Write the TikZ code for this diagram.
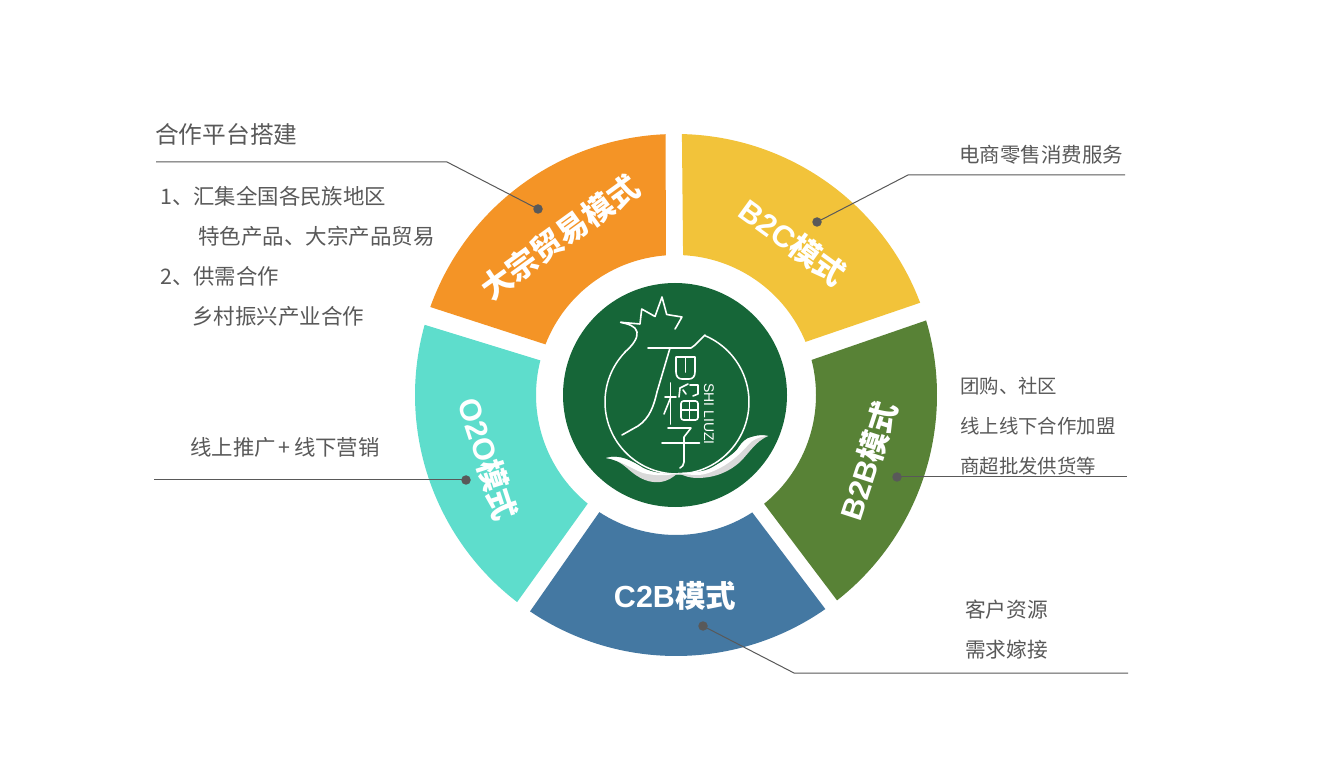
\documentclass[tikz,border=0pt]{standalone}
\usepackage{fontspec}
\setmainfont{Noto Sans CJK SC}
\newfontfamily\latinsans{Liberation Sans}
\newcommand{\szfont}[1]{\fontsize{#1}{#1}\selectfont}
\definecolor{txtgray}{HTML}{595959}
\definecolor{cOrange}{HTML}{F49426}
\definecolor{cYellow}{HTML}{F2C33A}
\definecolor{cGreen}{HTML}{588236}
\definecolor{cBlue}{HTML}{4478A2}
\definecolor{cTeal}{HTML}{5EDDCC}
\definecolor{cCore}{HTML}{166638}
\definecolor{leafgray}{HTML}{D9D9D9}
% outer start, outer end, inner end, inner start, colour
\newcommand{\sector}[5]{%
  \fill[#5] (#1:261pt) arc[start angle=#1,end angle=#2,radius=261pt]
    -- (#3:140pt) arc[start angle=#3,end angle=#4,radius=140pt] -- cycle;}
\tikzset{
  lead/.style={draw=txtgray,line width=1pt},
  dotn/.style={circle,fill=txtgray,inner sep=0pt,minimum size=9.5pt},
  lbl/.style={anchor=west,inner sep=0pt,text=txtgray},
  seg/.style={inner sep=0pt,text=white,font=\bfseries\szfont{30.5}},
  logo/.style={draw=white,line width=1.6pt,line cap=round,line join=round},
}
\begin{document}
\begin{tikzpicture}[x=1pt,y=-1pt]
\useasboundingbox (0,0) rectangle (1326,783);
\fill[white] (0,0) rectangle (1326,783);
\begin{scope}[shift={(676,395)},y=1pt]
  \sector{160.3}{92.3}{94.1}{158.8}{cOrange}
  \sector{88.7}{20.7}{22.3}{87.1}{cYellow}
  \sector{16.6}{-51.9}{-51}{14.5}{cGreen}
  \sector{-55.1}{-124}{-123.2}{-57}{cBlue}
  \sector{-127.5}{-195.6}{-194.3}{-129.1}{cTeal}
\end{scope}
\node[circle,fill=cCore,inner sep=0pt,minimum size=224pt] (core) at (675,395) {};
% logo
\begin{scope}[shift={(677,402)},y=1pt]
  \draw[logo,line width=1.5pt] (136:72pt) arc[start angle=136,end angle=427,radius=72pt];
\end{scope}
\draw[logo] (620.7,322.3) .. controls (628,324) and (636,326) .. (637,332) .. controls (638,338) and (633,345) .. (625,352);
\draw[logo] (620.7,322.3) -- (640,324) -- (641.7,309) -- (655,316.5) -- (662,297) -- (666.7,314.5) -- (682,317) .. controls (679,322) and (677,326) .. (675,329);
\draw[logo] (705,335) -- (695,345) -- (691,348) -- (648,348);
\draw[logo] (670,348) -- (657,392) .. controls (654,405) and (650,418) .. (638,426) -- (622,435);
% shi mouth
\draw[logo] (676,357) -- (676,372) .. controls (676,376) and (678,379) .. (682,379) -- (689,379) .. controls (693,379) and (695,376) .. (695,372) -- (695,357) -- cycle;
\draw[logo] (685.5,357) -- (685.5,372);
% liu
\draw[logo] (665,397) -- (676,397);
\draw[logo] (670.5,383) -- (670.5,424);
\draw[logo] (670.5,398) -- (664,414);
\draw[logo] (680,388) -- (688,384);
\draw[logo] (680,388) -- (679,397);
\draw[logo] (683,390) -- (686,394);
\draw[logo] (690,385) -- (698,385) -- (698,394) -- (693,396);
\draw[logo,rounded corners=2.5pt] (681,401) rectangle (698,420);
\draw[logo] (689.5,401) -- (689.5,420);
\draw[logo] (681,410) -- (698,410);
% zi
\draw[logo] (668,428) -- (691,428) -- (684,437) -- (684,462) .. controls (684,465) and (682,467) .. (680,468);
\draw[logo] (662,443) -- (699.5,443);
\node[rotate=-90,inner sep=0pt,text=white,font=\latinsans\szfont{14}] (brand) at (709,414) {SHI LIUZI};
% leaves
\fill[leafgray] (606,458) .. controls (620,454) and (632,461) .. (643,468) .. controls (655,474) and (668,474) .. (678,473) .. controls (672,478) and (668,481) .. (660,482) .. controls (650,483) and (640,480) .. (627,468) .. controls (620,462) and (614,459) .. (606,458) -- cycle;
\fill[white] (606,458) .. controls (620,454) and (632,461) .. (643,468) .. controls (655,474) and (668,474) .. (678,473) .. controls (668,476) and (655,476) .. (643,473) .. controls (632,469) and (620,460) .. (606,458) -- cycle;
\fill[leafgray] (678,473) .. controls (692,472) and (703,473) .. (713,467) .. controls (725,460) and (732,455) .. (737,450) .. controls (742,442) and (746,438) .. (752,437) .. controls (758,435) and (763,435) .. (768,436) .. controls (755,442) and (750,452) .. (740,462) .. controls (730,471) and (716,478) .. (697,478) .. controls (690,478) and (684,476) .. (678,473) -- cycle;
\fill[white] (678,473) .. controls (692,472) and (703,473) .. (713,467) .. controls (725,460) and (732,455) .. (737,450) .. controls (742,442) and (746,438) .. (752,437) .. controls (758,435) and (763,435) .. (768,436) .. controls (758,437) and (752,440) .. (748,445) .. controls (744,450) and (732,462) .. (720,468) .. controls (712,472) and (705,475) .. (697,475) .. controls (690,475) and (684,474) .. (678,473) -- cycle;
% segment labels
\node[seg,rotate=36,font=\bfseries\szfont{31}] (sOrange) at (560,237) {大宗贸易模式};
\node[seg,rotate=-36] (sYellow) at (793,242) {{\latinsans B2C}模式};
\node[seg,rotate=72] (sGreen) at (868,461) {{\latinsans B2B}模式};
\node[seg] (sBlue) at (675,596) {{\latinsans C2B}模式};
\node[seg,rotate=-72] (sTeal) at (488,459) {{\latinsans O2O}模式};
% leaders
\node[dotn] (dOrange) at (538,209) {};
\node[dotn] (dYellow) at (817,222) {};
\node[dotn] (dGreen) at (897,477) {};
\node[dotn] (dBlue) at (703,626) {};
\node[dotn] (dTeal) at (466,480) {};
\coordinate (kOrange) at (447,162); \coordinate (eOrange) at (156,162);
\coordinate (kYellow) at (908,175); \coordinate (eYellow) at (1125,175);
\coordinate (eGreen) at (1127,477);
\coordinate (kBlue) at (794,673); \coordinate (eBlue) at (1128,673);
\coordinate (eTeal) at (154,480);
\draw[lead] (dOrange.center) -- (kOrange) -- (eOrange);
\draw[lead] (dYellow.center) -- (kYellow) -- (eYellow);
\draw[lead] (dGreen.center) -- (eGreen);
\draw[lead] (dBlue.center) -- (kBlue) -- (eBlue);
\draw[lead] (dTeal.center) -- (eTeal);
% text
\node[lbl,font=\szfont{23.7}] (t1) at (155,134) {合作平台搭建};
\node[lbl,font=\szfont{21.4}] (t2) at (160,196) {1、汇集全国各民族地区};
\node[lbl,font=\szfont{21.5}] (t3) at (198,236) {特色产品、大宗产品贸易};
\node[lbl,font=\szfont{21.4}] (t4) at (160,276) {2、供需合作};
\node[lbl,font=\szfont{21.5}] (t5) at (192,316) {乡村振兴产业合作};
\node[lbl,font=\szfont{21.4}] (t6) at (190,447) {线上推广\hspace{3pt}+\hspace{3.5pt}线下营销};
\node[lbl,font=\szfont{20.5}] (t7) at (959,154.5) {电商零售消费服务};
\node[lbl,font=\szfont{19.4}] (t8) at (960,386) {团购、社区};
\node[lbl,font=\szfont{19.4}] (t9) at (960,426) {线上线下合作加盟};
\node[lbl,font=\szfont{19.4}] (t10) at (960,466) {商超批发供货等};
\node[lbl,font=\szfont{20.7}] (t11) at (965,610) {客户资源};
\node[lbl,font=\szfont{20.7}] (t12) at (965,650) {需求嫁接};
\end{tikzpicture}
\end{document}
